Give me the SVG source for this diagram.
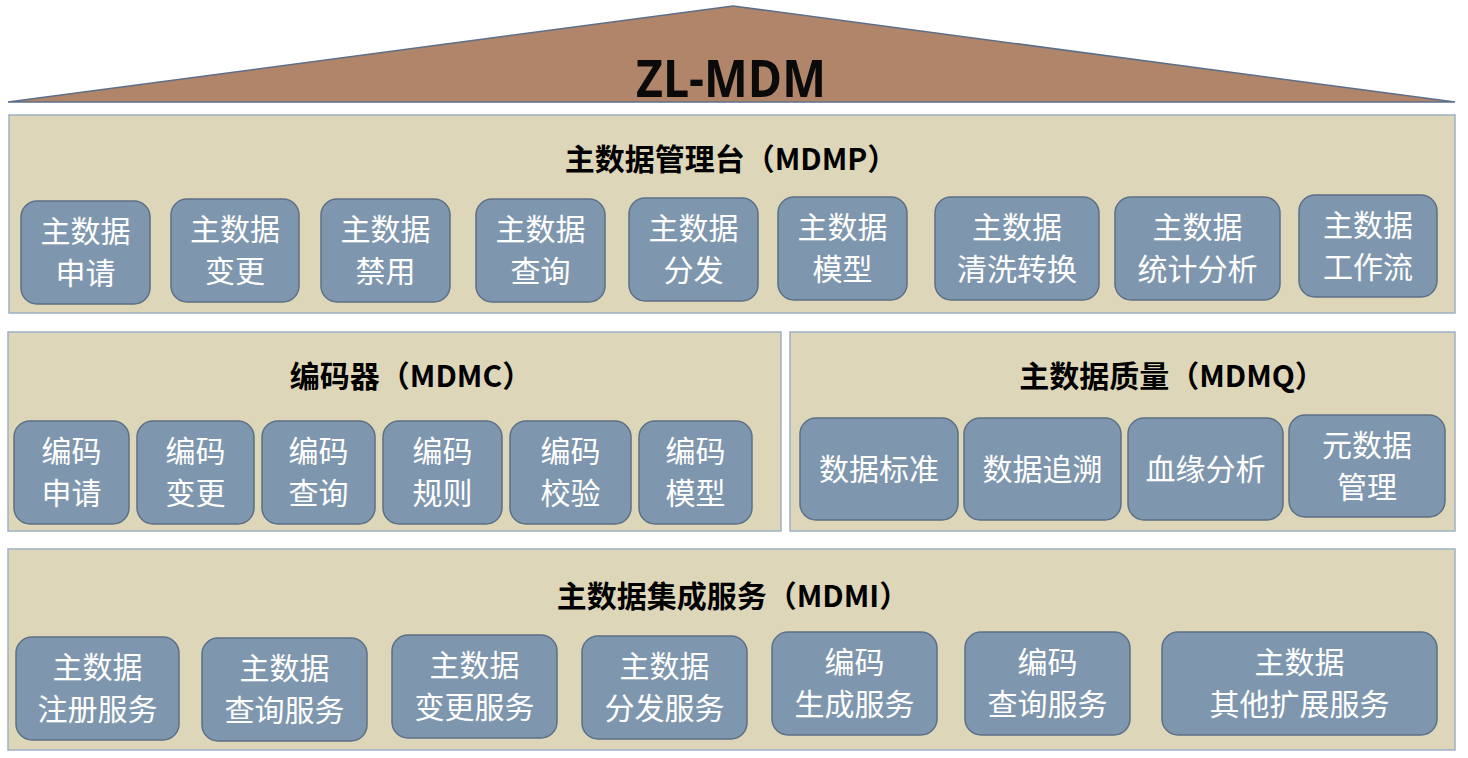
<svg xmlns="http://www.w3.org/2000/svg" width="1468" height="758" viewBox="0 0 1468 758">
<style>
.panel{fill:#ded6b9;stroke:#9eb0c5;stroke-width:1.5}
.box{fill:#7f97ae;stroke:#5c7087;stroke-width:1.5}
.lbl{font-family:"Noto Sans CJK SC","Noto Sans",sans-serif;font-size:30px;fill:#ffffff;text-anchor:middle}
.ttl{font-family:"Noto Sans CJK SC","Noto Sans",sans-serif;font-size:30px;font-weight:bold;fill:#000000;text-anchor:middle}
</style>
<rect width="1468" height="758" fill="#ffffff"/>
<g id="roof">
<polygon points="8,102 733,6 1455,102" fill="#b0856a" stroke="#5d6f88" stroke-width="1.5"/>
<text x="731" y="97" font-family="'Open Sans','Noto Sans',sans-serif" font-size="52" font-weight="bold" fill="#0a0a0a" text-anchor="middle" textLength="190" lengthAdjust="spacingAndGlyphs">ZL-MDM</text>
</g>
<g id="mdmp">
<rect class="panel" x="9" y="115" width="1446" height="198"/>
<text class="ttl" x="731" y="170">主数据管理台（MDMP）</text>
</g>
<g id="mdmp-1"><rect class="box" x="21" y="201" width="129" height="103" rx="16"/><text class="lbl" x="85.5" y="242">主数据</text><text class="lbl" x="85.5" y="284">申请</text></g>
<g id="mdmp-2"><rect class="box" x="171" y="199" width="128" height="103" rx="16"/><text class="lbl" x="235" y="240">主数据</text><text class="lbl" x="235" y="282">变更</text></g>
<g id="mdmp-3"><rect class="box" x="321" y="199" width="129" height="103" rx="16"/><text class="lbl" x="385.5" y="240">主数据</text><text class="lbl" x="385.5" y="282">禁用</text></g>
<g id="mdmp-4"><rect class="box" x="476" y="199" width="129" height="103" rx="16"/><text class="lbl" x="540.5" y="240">主数据</text><text class="lbl" x="540.5" y="282">查询</text></g>
<g id="mdmp-5"><rect class="box" x="629" y="198" width="129" height="103" rx="16"/><text class="lbl" x="693.5" y="239">主数据</text><text class="lbl" x="693.5" y="281">分发</text></g>
<g id="mdmp-6"><rect class="box" x="778" y="197" width="129" height="103" rx="16"/><text class="lbl" x="842.5" y="238">主数据</text><text class="lbl" x="842.5" y="280">模型</text></g>
<g id="mdmp-7"><rect class="box" x="935" y="197" width="164" height="103" rx="16"/><text class="lbl" x="1017" y="238">主数据</text><text class="lbl" x="1017" y="280">清洗转换</text></g>
<g id="mdmp-8"><rect class="box" x="1115" y="197" width="165" height="103" rx="16"/><text class="lbl" x="1197.5" y="238">主数据</text><text class="lbl" x="1197.5" y="280">统计分析</text></g>
<g id="mdmp-9"><rect class="box" x="1299" y="195" width="138" height="102" rx="16"/><text class="lbl" x="1368" y="236">主数据</text><text class="lbl" x="1368" y="278">工作流</text></g>

<g id="mdmc">
<rect class="panel" x="8" y="332" width="773" height="199"/>
<text class="ttl" x="411" y="387">编码器（MDMC）</text>
</g>
<g id="mdmc-1"><rect class="box" x="14" y="421" width="115" height="103" rx="16"/><text class="lbl" x="71.5" y="462">编码</text><text class="lbl" x="71.5" y="504">申请</text></g>
<g id="mdmc-2"><rect class="box" x="137" y="421" width="117" height="103" rx="16"/><text class="lbl" x="195.5" y="462">编码</text><text class="lbl" x="195.5" y="504">变更</text></g>
<g id="mdmc-3"><rect class="box" x="262" y="421" width="113" height="103" rx="16"/><text class="lbl" x="318.5" y="462">编码</text><text class="lbl" x="318.5" y="504">查询</text></g>
<g id="mdmc-4"><rect class="box" x="383" y="421" width="119" height="103" rx="16"/><text class="lbl" x="442.5" y="462">编码</text><text class="lbl" x="442.5" y="504">规则</text></g>
<g id="mdmc-5"><rect class="box" x="510" y="421" width="121" height="103" rx="16"/><text class="lbl" x="570.5" y="462">编码</text><text class="lbl" x="570.5" y="504">校验</text></g>
<g id="mdmc-6"><rect class="box" x="639" y="421" width="113" height="103" rx="16"/><text class="lbl" x="695.5" y="462">编码</text><text class="lbl" x="695.5" y="504">模型</text></g>

<g id="mdmq">
<rect class="panel" x="790" y="332" width="665" height="199"/>
<text class="ttl" x="1172" y="387">主数据质量（MDMQ）</text>
</g>
<g id="mdmq-1"><rect class="box" x="800" y="418" width="158" height="102" rx="16"/><text class="lbl" x="879" y="480">数据标准</text></g>
<g id="mdmq-2"><rect class="box" x="964" y="418" width="157" height="102" rx="16"/><text class="lbl" x="1042.5" y="480">数据追溯</text></g>
<g id="mdmq-3"><rect class="box" x="1128" y="418" width="155" height="102" rx="16"/><text class="lbl" x="1205.5" y="480">血缘分析</text></g>
<g id="mdmq-4"><rect class="box" x="1289" y="415" width="156" height="102" rx="16"/><text class="lbl" x="1367" y="456">元数据</text><text class="lbl" x="1367" y="498">管理</text></g>

<g id="mdmi">
<rect class="panel" x="8" y="549" width="1447" height="201"/>
<text class="ttl" x="733" y="607">主数据集成服务（MDMI）</text>
</g>
<g id="mdmi-1"><rect class="box" x="16" y="637" width="163" height="103" rx="16"/><text class="lbl" x="97.5" y="678">主数据</text><text class="lbl" x="97.5" y="720">注册服务</text></g>
<g id="mdmi-2"><rect class="box" x="202" y="638" width="165" height="103" rx="16"/><text class="lbl" x="284.5" y="679">主数据</text><text class="lbl" x="284.5" y="721">查询服务</text></g>
<g id="mdmi-3"><rect class="box" x="392" y="635" width="165" height="103" rx="16"/><text class="lbl" x="474.5" y="676">主数据</text><text class="lbl" x="474.5" y="718">变更服务</text></g>
<g id="mdmi-4"><rect class="box" x="582" y="636" width="165" height="103" rx="16"/><text class="lbl" x="664.5" y="677">主数据</text><text class="lbl" x="664.5" y="719">分发服务</text></g>
<g id="mdmi-5"><rect class="box" x="772" y="632" width="165" height="103" rx="16"/><text class="lbl" x="854.5" y="673">编码</text><text class="lbl" x="854.5" y="715">生成服务</text></g>
<g id="mdmi-6"><rect class="box" x="965" y="632" width="165" height="103" rx="16"/><text class="lbl" x="1047.5" y="673">编码</text><text class="lbl" x="1047.5" y="715">查询服务</text></g>
<g id="mdmi-7"><rect class="box" x="1162" y="632" width="275" height="103" rx="16"/><text class="lbl" x="1299.5" y="673">主数据</text><text class="lbl" x="1299.5" y="715">其他扩展服务</text></g>
<g id="connectors"/>
</svg>
